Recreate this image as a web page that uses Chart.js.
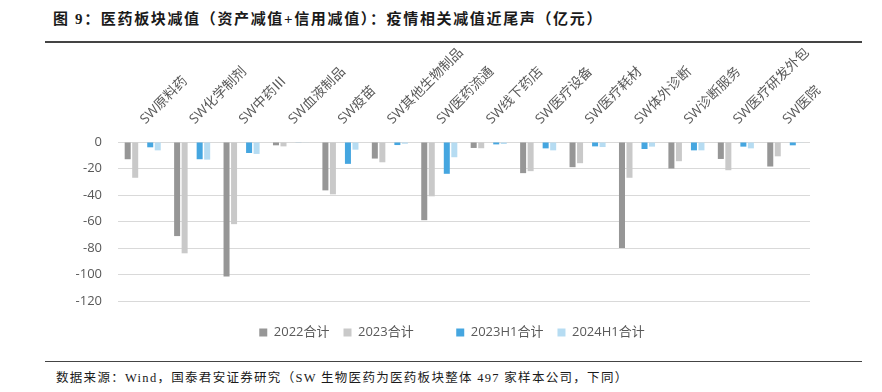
<!DOCTYPE html>
<html><head><meta charset="utf-8">
<script src="https://cdn.jsdelivr.net/npm/chart.js@4"></script>
<style>
html,body{margin:0;padding:0;background:#fff;}
#wrap{position:relative;width:882px;height:392px;overflow:hidden;}
#title{position:absolute;left:53px;top:7px;font:bold 15px "Liberation Serif","Noto Sans CJK SC";color:#1a1a1a;white-space:nowrap;letter-spacing:1.65px;}
#tline{position:absolute;left:45px;top:41px;width:817px;height:2px;background:#444;}
#bline{position:absolute;left:45px;top:361px;width:817px;height:1px;background:#444;}
#foot{position:absolute;left:56px;top:367px;font:12.5px "Liberation Serif","Noto Sans CJK SC";color:#1a1a1a;white-space:nowrap;letter-spacing:1.3px;}
#cv{position:absolute;left:0;top:45px;}
</style></head>
<body><div id="wrap">
<div id="title">图 9：医药板块减值（资产减值+信用减值）：疫情相关减值近尾声（亿元）</div>
<div id="tline"></div>
<canvas id="cv" width="882" height="315"></canvas>
<div id="bline"></div>
<div id="foot">数据来源：Wind，国泰君安证券研究（SW 生物医药为医药板块整体 497 家样本公司，下同）</div>
</div>
<script>
const categories = ['SW原料药','SW化学制剂','SW中药Ⅲ','SW血液制品','SW疫苗','SW其他生物制品','SW医药流通','SW线下药店','SW医疗设备','SW医疗耗材','SW体外诊断','SW诊断服务','SW医疗研发外包','SW医院'];
const total2022 = [-13, -71, -101.5, -2.5, -36.5, -12.5, -59, -4.5, -23.5, -19, -80, -20, -12.8, -18.5];
const total2023 = [-27, -84, -62, -3.3, -39.5, -15.3, -41, -4.7, -22, -16, -27, -14.5, -21.3, -10.8];
const h1_2023 = [-4, -13, -8.3, -0.3, -16.5, -2.3, -24, -1.8, -4.8, -3.3, -5.3, -6.3, -3.5, -2.5];
const h1_2024 = [-6.3, -13.3, -9, -0.3, -5.8, -1.3, -11.5, -1.5, -6.3, -3.8, -3.5, -6.3, -4.8, -0.5];
const seriesNames = ['2022合计','2023合计','','2023H1合计','2024H1合计'];
const yTicks = [0,-20,-40,-60,-80,-100,-120];

const FONT = '"Open Sans","Noto Sans CJK SC"';
const TXT = '#595959';
const colors = ['#969696','#c9c9c9','rgba(0,0,0,0)','#45a6e0','#b6dcf2'];
const dataArr = [total2022,total2023,categories.map(()=>null),h1_2023,h1_2024];

const legendGap = {
  id:'legendGap',
  beforeInit(chart){
    const lg = chart.legend; const fit = lg.fit;
    lg.fit = function(){ fit.call(this); this.height += 11; };
  },
  afterLayout(chart){ chart.legend.top += 11; chart.legend.bottom += 11; }
};

new Chart(document.getElementById('cv'), {
  type:'bar',
  data:{
    labels:categories,
    datasets:dataArr.map((d,i)=>({label:seriesNames[i],data:d,backgroundColor:colors[i],borderWidth:0,
      barPercentage:0.8,categoryPercentage:0.76,yAxisID:'y'}))
  },
  options:{
    responsive:false,animation:false,devicePixelRatio:1,
    layout:{padding:{left:22,right:0,top:0,bottom:11}},
    scales:{
      x:{position:'top',offset:true,
        grid:{display:false,drawTicks:false},
        border:{display:false},
        ticks:{autoSkip:false,minRotation:45,maxRotation:45,mirror:true,padding:-26,color:TXT,font:{family:FONT,size:13.5}},
        afterFit(s){s.height=97;}
      },
      y:{position:'left',min:-120,max:0,
        grid:{color:'#d9d9d9',lineWidth:1,drawTicks:false},
        border:{display:false},
        afterBuildTicks(s){s.ticks=yTicks.map(v=>({value:v}));},
        ticks:{padding:16,color:TXT,font:{family:FONT,size:13}},
        afterFit(s){s.width=96;}
      },
      yR:{position:'right',display:true,grid:{display:false},border:{display:false},ticks:{display:false},
        afterFit(s){s.width=72;}}
    },
    plugins:{
      legend:{position:'bottom',
        labels:{boxWidth:8,boxHeight:8,padding:14,color:TXT,font:{family:FONT,size:13}}},
      tooltip:{enabled:false}
    }
  },
  plugins:[legendGap]
});
</script>
</body></html>
